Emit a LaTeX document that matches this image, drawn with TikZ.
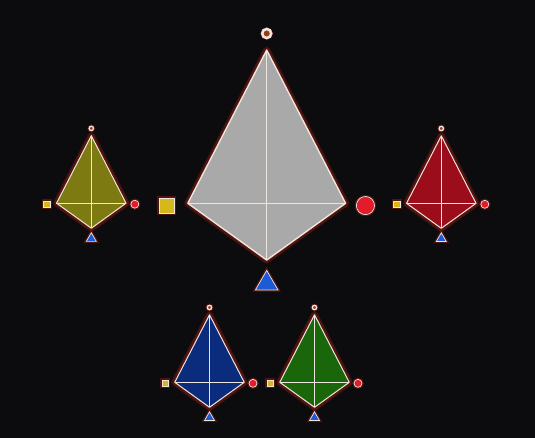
\documentclass[tikz,border=0pt]{standalone}
\usetikzlibrary{shapes.geometric}

\definecolor{bgblack}{HTML}{0C0C0E}
\definecolor{glowred}{HTML}{7A1A12}
\definecolor{edgewhite}{HTML}{EDE6DE}
\definecolor{kgray}{HTML}{A9A9A9}
\definecolor{kolive}{HTML}{7E7A12}
\definecolor{kred}{HTML}{9C0D1C}
\definecolor{kblue}{HTML}{0B2C7C}
\definecolor{kgreen}{HTML}{1A660B}
\definecolor{mbrown}{HTML}{9A3A16}
\definecolor{myellow}{HTML}{D6B81C}
\definecolor{mred}{HTML}{E31B2A}
\definecolor{mblue}{HTML}{1D5BD6}

\tikzset{
    glow/.style={draw=glowred, line width=#1, line join=round, opacity=.45},
    kedge/.style={draw=edgewhite, line width=1pt, line join=round},
    marker/.style={draw=edgewhite, line width=0.7pt, inner sep=0pt,
        preaction={draw=glowred, line width=3.4pt, opacity=.6}},
    topmark/.style={marker, circle, fill=mbrown, line width=1.3pt, minimum size=4.4pt},
    sqmark/.style={marker, rectangle, fill=myellow, minimum size=6.6pt},
    rdmark/.style={marker, circle, fill=mred, minimum size=8pt},
    trimark/.style={marker, regular polygon, regular polygon sides=3, fill=mblue, minimum size=11.5pt},
    kite/.pic={
        \coordinate (-t) at (0,-67.5);
        \coordinate (-l) at (-34.75,0);
        \coordinate (-r) at (34.75,0);
        \coordinate (-b) at (0,25);
        \draw[glow=7pt] (-t) -- (-r) -- (-b) -- (-l) -- cycle;
        \draw[glow=4.5pt] (-t) -- (-r) -- (-b) -- (-l) -- cycle;
        \fill[#1] (-t) -- (-r) -- (-b) -- (-l) -- cycle;
        \draw[kedge] (-t) -- (-b);
        \draw[kedge] (-l) -- (-r);
        \draw[kedge] (-t) -- (-r) -- (-b) -- (-l) -- cycle;
        \node[topmark] (-top) at (0,-74.8) {};
        \node[sqmark] (-sq) at (-44.2,1) {};
        \node[rdmark] (-rd) at (43.5,1) {};
        \node[trimark] (-tri) at (0,35.3) {};
    }
}

\begin{document}
\begin{tikzpicture}[x=1pt, y=-1pt]
    \useasboundingbox (0,0) rectangle (535,438);
    \fill[bgblack] (0,0) rectangle (535,438);

    % centre kite
    \pic[scale=2.27, transform shape,
        kedge/.append style={line width=1.4pt},
        topmark/.append style={line width=2.6pt, minimum size=4pt}] (gray) at (266.7,203.3) {kite=kgray};

    % side kites
    \pic (olive) at (91.3,203.2) {kite=kolive};
    \pic (red) at (441.3,203.3) {kite=kred};

    % bottom kites
    \pic (blue) at (209.5,382.3) {kite=kblue};
    \pic (green) at (314.5,382.3) {kite=kgreen};
\end{tikzpicture}
\end{document}
